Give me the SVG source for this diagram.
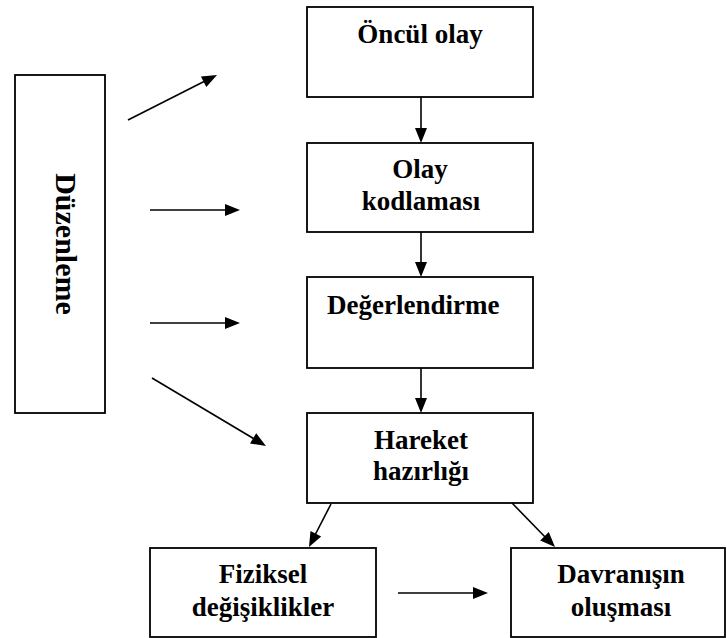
<svg xmlns="http://www.w3.org/2000/svg" width="727" height="638" viewBox="0 0 727 638">
<defs>
<style>
.box{fill:#fff;stroke:#000;stroke-width:1.8}
.t{font-family:"Liberation Serif",serif;font-weight:700;font-size:27px;fill:#000;text-anchor:middle}
.c{stroke:#000;stroke-width:1.6;fill:none}
.h{fill:#000;stroke:none}
</style>
<path id="hd" d="M0,0 L-15,-6 L-15,6 z"/>
</defs>
<rect width="727" height="638" fill="#fff"/>
<g id="duzenleme">
<rect class="box" x="15" y="75" width="90" height="338"/>
<text class="t" style="font-size:30px" transform="translate(56,244) rotate(90)">Düzenleme</text>
</g>
<g id="oncul">
<rect class="box" x="307" y="7" width="226" height="90"/>
<text class="t" x="420" y="43">Öncül olay</text>
</g>
<g id="kodlama">
<rect class="box" x="307" y="143" width="226" height="89"/>
<text class="t" x="420" y="178">Olay</text>
<text class="t" x="421" y="210">kodlaması</text>
</g>
<g id="degerlendirme">
<rect class="box" x="307" y="277" width="226" height="91"/>
<text class="t" x="327" y="314" style="text-anchor:start">Değerlendirme</text>
</g>
<g id="hareket">
<rect class="box" x="307" y="413" width="226" height="90"/>
<text class="t" x="421" y="449">Hareket</text>
<text class="t" x="421" y="480">hazırlığı</text>
</g>
<g id="fiziksel">
<rect class="box" x="150" y="548" width="226" height="89"/>
<text class="t" x="263" y="583">Fiziksel</text>
<text class="t" x="263" y="616">değişiklikler</text>
</g>
<g id="davranis">
<rect class="box" x="511" y="548" width="214" height="89"/>
<text class="t" x="621" y="583">Davranışın</text>
<text class="t" x="621" y="616">oluşması</text>
</g>
<g id="connectors">
<line class="c" x1="421" y1="97" x2="421" y2="132"/>
<use href="#hd" class="h" transform="translate(421,143) rotate(90)"/>
<line class="c" x1="421" y1="232" x2="421" y2="266"/>
<use href="#hd" class="h" transform="translate(421,277) rotate(90)"/>
<line class="c" x1="421" y1="368" x2="421" y2="402"/>
<use href="#hd" class="h" transform="translate(421,413) rotate(90)"/>
<line class="c" x1="331" y1="504" x2="314" y2="537"/>
<use href="#hd" class="h" transform="translate(309,547) rotate(117.1)"/>
<line class="c" x1="512" y1="503" x2="548" y2="540"/>
<use href="#hd" class="h" transform="translate(555,547) rotate(45.6)"/>
<line class="c" x1="398" y1="593" x2="476" y2="593"/>
<use href="#hd" class="h" transform="translate(488,593)"/>
<line class="c" x1="128" y1="120" x2="207" y2="80"/>
<use href="#hd" class="h" transform="translate(217,75) rotate(-26.8)"/>
<line class="c" x1="150" y1="210" x2="228" y2="210"/>
<use href="#hd" class="h" transform="translate(240,210)"/>
<line class="c" x1="150" y1="323" x2="228" y2="323"/>
<use href="#hd" class="h" transform="translate(240,323)"/>
<line class="c" x1="152" y1="378" x2="256" y2="440"/>
<use href="#hd" class="h" transform="translate(266,446) rotate(30.8)"/>
</g>
</svg>
